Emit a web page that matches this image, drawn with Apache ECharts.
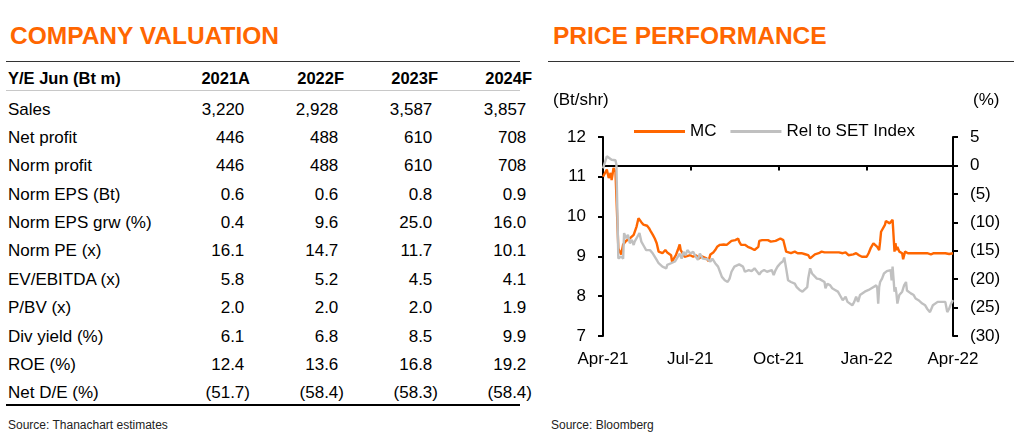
<!DOCTYPE html>
<html>
<head>
<meta charset="utf-8">
<script src="https://cdn.jsdelivr.net/npm/echarts@6/dist/echarts.min.js"></script>
<style>
body{margin:0;background:#fff;font-family:"Liberation Sans",Arial,sans-serif;color:#000;}
#page{position:relative;width:1024px;height:435px;overflow:hidden;}
.title{position:absolute;top:22px;font-size:24.5px;font-weight:bold;color:#FF6600;white-space:nowrap;}
.rule{position:absolute;height:0;border-top:1px solid #333;}
.cell{position:absolute;font-size:17px;line-height:28px;height:28px;white-space:nowrap;}
.num{text-align:right;}
.hd{font-weight:bold;font-size:16.5px;}
.pad{visibility:hidden;}
.source{position:absolute;top:418px;font-size:12px;color:#222;white-space:nowrap;}
#chart{position:absolute;left:540px;top:80px;width:484px;height:310px;}
</style>
</head>
<body>
<div id="page">
	<div class="title" style="left:10px;">COMPANY VALUATION</div>
	<div class="rule" style="left:6px;top:61px;width:514px;"></div>
	<div class="rule" style="left:6px;top:90px;width:514px;border-top-color:#c8c8c8;"></div>
	<div class="rule" style="left:6px;top:404px;width:514px;border-top:2px solid #000;"></div>
	<div class="source" style="left:8px;">Source: Thanachart estimates</div>
	<div id="table"></div>

	<div class="title" style="left:553px;">PRICE PERFORMANCE</div>
	<div class="rule" style="left:548px;top:61px;width:466px;"></div>
	<div class="source" style="left:551px;">Source: Bloomberg</div>
	<div id="chart"></div>
</div>
<script>
// ---- table data ----
var headLabel = 'Y/E Jun (Bt m)';
var years = ['2021A','2022F','2023F','2024F'];
var rowLabels = ['Sales','Net profit','Norm profit','Norm EPS (Bt)','Norm EPS grw (%)','Norm PE (x)','EV/EBITDA (x)','P/BV (x)','Div yield (%)','ROE (%)','Net D/E (%)'];
var rowDecimals = [0,0,0,1,1,1,1,1,1,1,1];
var fy2021 = [3220,446,446,0.6,0.4,16.1,5.8,2.0,6.1,12.4,-51.7];
var fy2022 = [2928,488,488,0.6,9.6,14.7,5.2,2.0,6.8,13.6,-58.4];
var fy2023 = [3587,610,610,0.8,25.0,11.7,4.5,2.0,8.5,16.8,-58.3];
var fy2024 = [3857,708,708,0.9,16.0,10.1,4.1,1.9,9.9,19.2,-58.4];

// ---- chart data ----
var mcDates = ['2021-04-01','2021-04-05','2021-04-07','2021-04-09','2021-04-10','2021-04-12','2021-04-14','2021-04-15','2021-04-17','2021-04-20',
	'2021-04-22','2021-04-25','2021-04-27','2021-04-29','2021-05-01','2021-05-03','2021-05-04','2021-05-06','2021-05-08','2021-05-10',
	'2021-05-11','2021-05-13','2021-05-15','2021-05-17','2021-05-19','2021-05-21','2021-05-23','2021-05-25','2021-05-27','2021-05-29',
	'2021-05-30','2021-06-02','2021-06-04','2021-06-05','2021-06-07','2021-06-09','2021-06-11','2021-06-12','2021-06-14','2021-06-16',
	'2021-06-18','2021-06-20','2021-06-21','2021-06-23','2021-06-25','2021-06-27','2021-07-01','2021-07-04','2021-07-07','2021-07-10',
	'2021-07-13','2021-07-15','2021-07-18','2021-07-20','2021-07-22','2021-07-25','2021-07-27','2021-07-29','2021-08-01','2021-08-03',
	'2021-08-05','2021-08-08','2021-08-10','2021-08-13','2021-08-15','2021-08-17','2021-08-20','2021-08-21','2021-08-23','2021-08-25',
	'2021-08-27','2021-08-30','2021-09-03','2021-09-06','2021-09-10','2021-09-11','2021-09-14','2021-09-17','2021-09-20','2021-09-23',
	'2021-09-25','2021-09-28','2021-09-30','2021-10-03','2021-10-06','2021-10-07','2021-10-09','2021-10-11','2021-10-14','2021-10-18',
	'2021-10-21','2021-10-25','2021-10-28','2021-11-01','2021-11-03','2021-11-05','2021-11-08','2021-11-12','2021-11-15','2021-11-18',
	'2021-11-20','2021-11-23','2021-11-26','2021-11-30','2021-12-03','2021-12-07','2021-12-10','2021-12-13','2021-12-15','2021-12-18',
	'2021-12-21','2021-12-24','2021-12-27','2021-12-29','2022-01-01','2022-01-03','2022-01-05','2022-01-08','2022-01-10','2022-01-12',
	'2022-01-14','2022-01-15','2022-01-16','2022-01-18','2022-01-20','2022-01-21','2022-01-23','2022-01-25','2022-01-27','2022-01-28',
	'2022-01-29','2022-01-30','2022-01-31','2022-02-01','2022-02-02','2022-02-04','2022-02-06','2022-02-07','2022-02-08','2022-02-10',
	'2022-02-13','2022-02-16','2022-02-19','2022-02-23','2022-02-26','2022-03-02','2022-03-05','2022-03-09','2022-03-12','2022-03-16',
	'2022-03-19','2022-03-24','2022-03-26','2022-03-28','2022-03-30','2022-04-01'];
var mcPrice = [11.0,11.18,10.97,11.1,10.92,11.22,11.13,11.15,9.2,9.05,
	9.3,9.39,9.35,9.45,9.5,9.54,9.58,9.75,9.96,10.0,
	9.86,9.8,9.79,9.77,9.71,9.62,9.54,9.45,9.33,9.12,
	9.08,9.08,9.1,9.16,9.1,9.12,9.03,8.87,8.91,9.03,
	9.16,9.3,9.16,9.08,8.99,8.99,9.03,8.99,9.03,8.95,
	9.0,9.0,8.95,8.88,9.05,9.1,9.16,9.24,9.29,9.25,
	9.3,9.29,9.29,9.39,9.37,9.41,9.45,9.37,9.29,9.33,
	9.29,9.24,9.2,9.16,9.24,9.39,9.41,9.41,9.41,9.37,
	9.33,9.39,9.41,9.45,9.41,9.45,9.12,9.08,9.08,9.12,
	9.08,9.08,9.06,9.03,8.95,8.99,9.05,9.08,9.12,9.1,
	9.13,9.1,9.1,9.1,9.1,9.08,9.1,9.03,9.08,9.05,
	9.08,9.03,8.99,8.95,8.99,9.08,9.2,9.33,9.33,9.24,
	9.16,9.37,9.62,9.66,9.79,9.89,9.92,9.83,9.79,9.92,
	9.92,9.12,9.33,9.16,9.24,9.12,9.16,9.08,8.93,9.12,
	9.08,9.08,9.08,9.08,9.08,9.08,9.08,9.05,9.08,9.08,
	9.08,9.08,9.03,9.06,9.05,9.08];

var relDates = ['2021-04-01','2021-04-05','2021-04-06','2021-04-10','2021-04-12','2021-04-14','2021-04-15','2021-04-17','2021-04-19','2021-04-20',
	'2021-04-22','2021-04-23','2021-04-25','2021-04-27','2021-04-29','2021-05-01','2021-05-03','2021-05-04','2021-05-07','2021-05-09',
	'2021-05-11','2021-05-12','2021-05-14','2021-05-16','2021-05-18','2021-05-20','2021-05-21','2021-05-23','2021-05-25','2021-05-27',
	'2021-05-29','2021-05-31','2021-06-02','2021-06-04','2021-06-06','2021-06-07','2021-06-09','2021-06-11','2021-06-13','2021-06-15',
	'2021-06-17','2021-06-18','2021-06-20','2021-06-22','2021-06-24','2021-06-26','2021-06-28','2021-07-01','2021-07-04','2021-07-07',
	'2021-07-09','2021-07-11','2021-07-14','2021-07-16','2021-07-19','2021-07-22','2021-07-24','2021-07-27','2021-07-30','2021-08-01',
	'2021-08-03','2021-08-06','2021-08-09','2021-08-11','2021-08-13','2021-08-16','2021-08-18','2021-08-21','2021-08-23','2021-08-25',
	'2021-08-27','2021-08-29','2021-08-31','2021-09-03','2021-09-06','2021-09-08','2021-09-11','2021-09-13','2021-09-16','2021-09-19',
	'2021-09-21','2021-09-24','2021-09-26','2021-09-28','2021-09-30','2021-10-03','2021-10-06','2021-10-07','2021-10-09','2021-10-11',
	'2021-10-14','2021-10-18','2021-10-20','2021-10-23','2021-10-26','2021-10-28','2021-10-31','2021-11-01','2021-11-03','2021-11-05',
	'2021-11-07','2021-11-10','2021-11-13','2021-11-15','2021-11-18','2021-11-19','2021-11-21','2021-11-24','2021-11-26','2021-11-29',
	'2021-12-02','2021-12-05','2021-12-07','2021-12-10','2021-12-12','2021-12-14','2021-12-17','2021-12-19','2021-12-21','2021-12-23',
	'2021-12-25','2021-12-27','2021-12-30','2022-01-01','2022-01-03','2022-01-06','2022-01-08','2022-01-11','2022-01-12','2022-01-13',
	'2022-01-14','2022-01-15','2022-01-17','2022-01-19','2022-01-21','2022-01-22','2022-01-24','2022-01-26','2022-01-27','2022-01-28',
	'2022-01-30','2022-01-31','2022-02-01','2022-02-02','2022-02-04','2022-02-06','2022-02-07','2022-02-09','2022-02-11','2022-02-12',
	'2022-02-14','2022-02-16','2022-02-19','2022-02-21','2022-02-24','2022-02-26','2022-02-28','2022-03-03','2022-03-05','2022-03-08',
	'2022-03-10','2022-03-11','2022-03-13','2022-03-16','2022-03-19','2022-03-21','2022-03-24','2022-03-25','2022-03-26','2022-03-28',
	'2022-03-30','2022-04-01'];
var relPerf = [-0.5,1.6,1.3,1.0,1.3,0.9,0.1,-16.35,-16.6,-16.0,
	-16.4,-11.9,-12.8,-12.2,-13.7,-13.1,-14.0,-13.4,-12.5,-11.9,
	-13.4,-13.7,-14.3,-14.9,-14.6,-14.9,-14.9,-15.5,-15.2,-16.6,
	-17.2,-17.2,-17.8,-17.5,-18.1,-17.5,-17.8,-17.2,-17.5,-16.9,
	-17.2,-16.1,-15.5,-16.4,-15.2,-15.8,-14.9,-15.5,-15.2,-16.1,
	-16.6,-15.5,-16.4,-16.1,-16.5,-16.9,-16.4,-17.2,-17.8,-18.7,
	-19.6,-20.2,-20.5,-19.9,-18.7,-17.8,-17.5,-17.4,-17.6,-17.8,
	-18.7,-18.4,-18.4,-18.6,-18.1,-18.4,-19.2,-18.7,-18.4,-18.7,
	-18.8,-18.4,-19.3,-18.4,-17.8,-17.2,-16.8,-16.2,-18.1,-20.2,
	-20.5,-20.8,-21.4,-21.9,-22.2,-22.5,-21.4,-19.9,-18.1,-19.0,
	-19.3,-19.9,-20.0,-20.2,-20.5,-21.6,-20.8,-21.1,-21.6,-21.9,
	-22.2,-23.1,-23.7,-23.1,-24.0,-23.7,-24.6,-24.0,-23.1,-24.0,
	-22.8,-22.5,-22.2,-22.2,-21.9,-21.6,-21.7,-21.1,-21.6,-24.3,
	-21.4,-20.5,-19.9,-19.0,-18.7,-18.6,-18.7,-18.4,-20.2,-17.8,
	-22.2,-21.4,-22.5,-24.3,-22.8,-22.5,-22.2,-21.1,-20.5,-22.0,
	-22.2,-22.5,-22.8,-23.4,-23.7,-23.9,-24.3,-24.6,-25.2,-25.8,
	-26.1,-24.6,-24.3,-24.0,-24.0,-23.9,-24.0,-24.9,-25.8,-25.2,
	-24.3,-23.7];

var mcColor = '#FF6600';
var relColor = '#C0C0C0';

//表格
function fmt(v,dec){
	var s = Math.abs(v).toFixed(dec).replace(/\B(?=(\d{3})+(?!\d))/g, ',');
	if(v<0){
		return '('+s+')';
	}
	return s+'<span class="pad">)</span>';
}

function buildTable(){
	var cols = [fy2021,fy2022,fy2023,fy2024];
	var rightEdge = [250,344,438,532];
	var html = '';
	html += '<div class="cell hd" style="left:8px;top:64px;">'+headLabel+'</div>';
	for(var j=0;j<years.length;j++){
		html += '<div class="cell hd num" style="left:'+(rightEdge[j]-90)+'px;width:90px;top:64px;">'+years[j]+'</div>';
	}
	for(var i=0;i<rowLabels.length;i++){
		var top = 95.7+i*28.35;
		html += '<div class="cell" style="left:8px;top:'+top+'px;">'+rowLabels[i]+'</div>';
		for(var j=0;j<cols.length;j++){
			html += '<div class="cell num" style="left:'+(rightEdge[j]-90)+'px;width:90px;top:'+top+'px;">'+fmt(cols[j][i],rowDecimals[i])+'</div>';
		}
	}
	document.getElementById('table').innerHTML = html;
}
buildTable();

//走势图
function pairs(dates,vals){
	var out = [];
	for(var i=0;i<dates.length;i++){
		out.push([dates[i],vals[i]]);
	}
	return out;
}

var axisFont = {fontFamily:'Liberation Sans, Arial, sans-serif',fontSize:17,color:'#000'};
var myChart = echarts.init(document.getElementById('chart'));
var option = {
	animation:false,
	textStyle:{fontFamily:'Liberation Sans, Arial, sans-serif'},
	grid:{left:63,top:57,width:350,height:199},
	legend:{
		left:89,top:38,
		icon:'rect',
		itemWidth:51,itemHeight:3,itemGap:14,
		textStyle:axisFont,
		data:['MC','Rel to SET Index']
	},
	graphic:[
		{type:'text',left:13,top:12,style:{text:'(Bt/shr)',font:'17px Liberation Sans, Arial, sans-serif',fill:'#000'}},
		{type:'text',left:433,top:12,style:{text:'(%)',font:'17px Liberation Sans, Arial, sans-serif',fill:'#000'}}
	],
	xAxis:{
		type:'time',
		min:'2021-04-01',max:'2022-04-01',
		splitNumber:4,
		axisLine:{lineStyle:{color:'#000',width:2}},
		axisTick:{show:true,length:5,lineStyle:{color:'#000',width:2}},
		axisLabel:{
			fontSize:17,color:'#000',margin:15,
			formatter:'{MMM}-{yy}'
		},
		splitLine:{show:false}
	},
	yAxis:[
		{
			type:'value',min:7,max:12,interval:1,
			axisLine:{show:true,lineStyle:{color:'#000',width:2}},
			axisTick:{show:true,length:5,lineStyle:{color:'#000',width:2}},
			axisLabel:{fontSize:17,color:'#000',margin:17},
			splitLine:{show:false}
		},
		{
			type:'value',min:-30,max:5,interval:5,position:'right',
			axisLine:{show:true,lineStyle:{color:'#000',width:2}},
			axisTick:{show:true,length:5,lineStyle:{color:'#000',width:2}},
			axisLabel:{
				fontSize:17,color:'#000',margin:17,
				formatter:function(v){
					return v<0 ? '('+(-v)+')' : ''+v;
				}
			},
			splitLine:{show:false}
		}
	],
	series:[
		{
			name:'MC',type:'line',yAxisIndex:0,
			symbol:'none',
			lineStyle:{color:mcColor,width:2.4},
			itemStyle:{color:mcColor},
			data:pairs(mcDates,mcPrice)
		},
		{
			name:'Rel to SET Index',type:'line',yAxisIndex:1,
			symbol:'none',
			lineStyle:{color:relColor,width:2.4},
			itemStyle:{color:relColor},
			data:pairs(relDates,relPerf)
		}
	]
};
myChart.setOption(option);
</script>
</body>
</html>
